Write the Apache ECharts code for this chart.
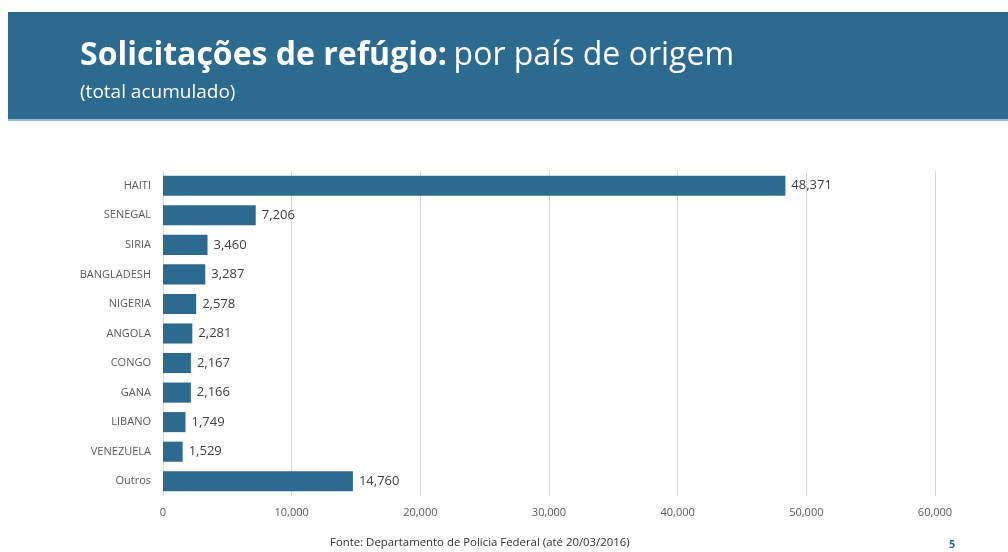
<!DOCTYPE html>
<html>
<head>
<meta charset="utf-8">
<script src="https://cdn.jsdelivr.net/npm/echarts@6/dist/echarts.min.js"></script>
<style>
  html, body { margin: 0; padding: 0; background: #fff; }
  #chart { width: 1008px; height: 552px; }
</style>
</head>
<body>
<div id="chart"></div>
<script>
// países (de cima para baixo)
const countries = ["HAITI", "SENEGAL", "SIRIA", "BANGLADESH", "NIGERIA", "ANGOLA", "CONGO", "GANA", "LIBANO", "VENEZUELA", "Outros"]
const requests = [48371, 7206, 3460, 3287, 2578, 2281, 2167, 2166, 1749, 1529, 14760]
const xTicks = [0, 10000, 20000, 30000, 40000, 50000, 60000]

const blue = "#2d6a8f"
const font = "'Open Sans', 'Noto Sans', sans-serif"

const chart = echarts.init(document.getElementById("chart"))

chart.setOption({
  animation: false,
  textStyle: { fontFamily: font },
  graphic: [
    {
      type: "rect",
      shape: { x: 8, y: 12, width: 1000, height: 107 },
      style: { fill: blue }
    },
    {
      type: "rect",
      shape: { x: 8, y: 119, width: 1000, height: 2 },
      style: { fill: "#9bb8cc" }
    },
    {
      type: "text",
      left: 80,
      top: 40,
      style: {
        text: "{b|Solicitações de refúgio:}  {n|por país de origem}",
        rich: {
          b: { fontSize: 32, fontWeight: "bold", fill: "#fff", fontFamily: font },
          n: { fontSize: 32, fill: "#fff", fontFamily: font }
        }
      }
    },
    {
      type: "text",
      left: 80,
      top: 83,
      style: { text: "(total acumulado)", fontSize: 19, fill: "#fff", fontFamily: font }
    },
    {
      type: "text",
      left: 330,
      top: 537,
      style: { text: "Fonte: Departamento de Polícia Federal (até 20/03/2016)", fontSize: 11.4, fill: "#333", fontFamily: font }
    },
    {
      type: "text",
      left: 949,
      top: 539,
      style: { text: "5", fontSize: 11, fontWeight: "bold", fill: blue, fontFamily: font }
    }
  ],
  grid: {
    left: 163,
    right: 73,
    top: 171,
    bottom: 56
  },
  xAxis: {
    type: "value",
    min: xTicks[0],
    max: xTicks[xTicks.length - 1],
    interval: 10000,
    axisLine: { show: false },
    axisTick: { show: false },
    splitLine: { lineStyle: { color: "#d9d9d9", width: 1 } },
    axisLabel: {
      color: "#595959",
      fontSize: 11,
      margin: 11,
      formatter: (v) => v.toLocaleString("en-US")
    }
  },
  yAxis: {
    type: "category",
    data: countries,
    inverse: true,
    axisLine: { show: false },
    axisTick: { show: false },
    axisLabel: { color: "#595959", fontSize: 11, margin: 12 }
  },
  series: [
    {
      type: "bar",
      data: requests,
      barCategoryGap: "32%",
      itemStyle: { color: blue },
      label: {
        show: true,
        position: "right",
        distance: 6,
        color: "#404040",
        fontSize: 13,
        formatter: (p) => p.value.toLocaleString("en-US")
      }
    }
  ]
})
</script>
</body>
</html>
